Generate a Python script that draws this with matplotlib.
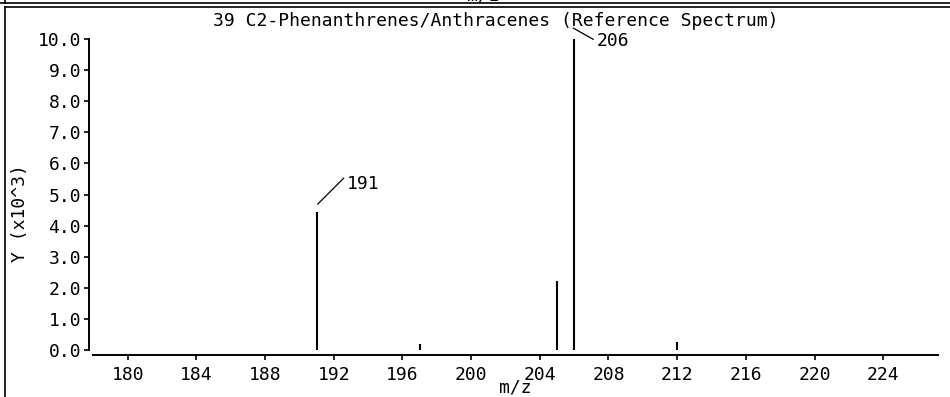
import matplotlib
matplotlib.use('Agg')
import matplotlib.pyplot as plt
from matplotlib.lines import Line2D
from matplotlib.transforms import offset_copy

# spectrum data (intensity in units of 10^3)
mz = [191, 197, 205, 206, 212]
intensity = [4.43, 0.18, 2.22, 10.0, 0.25]
labelled = [191, 206]
xticks = [180, 184, 188, 192, 196, 200, 204, 208, 212, 216, 220, 224]
yticks = [0, 1, 2, 3, 4, 5, 6, 7, 8, 9, 10]
titulo = '39 C2-Phenanthrenes/Anthracenes (Reference Spectrum)'

plt.rcParams['font.family'] = ['DejaVu Sans Mono']
FS = 13
W, H = 950, 397

fig = plt.figure(figsize=(W / 100, H / 100), dpi=100)
ax = fig.add_axes([93 / W, 42 / H, (938 - 93) / W, (355 - 39) / H])

# spine setup first: set_position resets the ticks
for s in ['top', 'right']:
    ax.spines[s].set_visible(False)
ax.spines['left'].set_position(('outward', 3))
ax.spines['left'].set_bounds(0, 10)
ax.spines['left'].set_linewidth(1.4)
ax.spines['bottom'].set_linewidth(1.4)

ax.vlines(mz, 0, intensity, colors='black', linewidth=1.5, clip_on=False)

ax.set_xlim(177.98, 227.19)
ax.set_ylim(-0.16, 10)
ax.set_xticks(xticks)
ax.set_xticklabels([str(t) for t in xticks])
ax.set_yticks(yticks)
ax.set_yticklabels([f'{t:.1f}' for t in yticks])
ax.tick_params(axis='both', direction='out', length=3.6, width=1.2,
               color='black', labelsize=FS)
ax.tick_params(axis='x', pad=4)
ax.tick_params(axis='y', pad=2)

# peak labels with leader lines
alturas = dict(zip(mz, intensity))
offs = {191: ((1, 8), (29, 29), 'top', (0, 1)),
        206: ((-1, 11), (23, -13), 'center', (0, 0.5))}
for m in labelled:
    (dx, dy), txt_off, va, rp = offs[m]
    tr = offset_copy(ax.transData, fig=fig, x=dx, y=dy, units='dots')
    ax.annotate(str(m), xy=(m, alturas[m]), xycoords=tr,
                xytext=txt_off, textcoords='offset pixels',
                ha='left', va=va, fontsize=FS, annotation_clip=False,
                arrowprops=dict(arrowstyle='-', color='black', lw=0.9,
                                shrinkA=0, shrinkB=0, relpos=rp))

# title and axis labels
fig.text(496 / W, 1 - 21 / H, titulo, ha='center', va='center', fontsize=FS)
fig.text(515 / W, 1 - 387 / H, 'm/z', ha='center', va='center', fontsize=FS)
fig.text(20 / W, 1 - 213 / H, 'Y (x10^3)', ha='center', va='center',
         rotation=90, fontsize=FS)
# cut-off label of the panel above
fig.text(483 / W, 1 - 1 / H, 'm/z', ha='center', va='baseline', fontsize=FS)

# panel frame
fig.add_artist(Line2D([0, 1], [1 - 3 / H, 1 - 3 / H], transform=fig.transFigure,
                      color='black', lw=1.2))
fig.add_artist(Line2D([5 / W, 1], [1 - 7 / H, 1 - 7 / H], transform=fig.transFigure,
                      color='black', lw=1.2))
fig.add_artist(Line2D([5 / W, 5 / W], [0, 1 - 7 / H], transform=fig.transFigure,
                      color='black', lw=1.2))
fig.add_artist(Line2D([5 / W, 5 / W], [1 - 3 / H, 1], transform=fig.transFigure,
                      color='black', lw=1.2))

fig.savefig('out.png', dpi=100)
